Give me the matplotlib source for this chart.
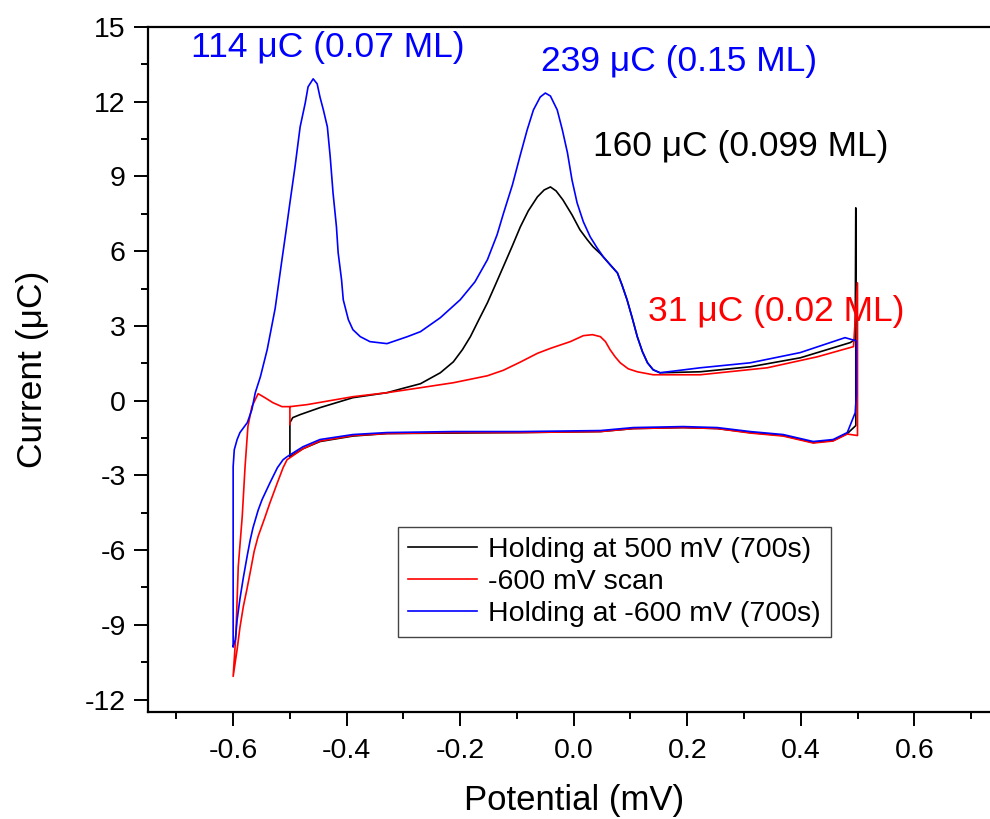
import matplotlib
matplotlib.use("Agg")
import matplotlib.pyplot as plt
from matplotlib.ticker import MultipleLocator, FuncFormatter

plt.rcParams["font.family"] = ["Liberation Sans", "DejaVu Sans"]
plt.rcParams["axes.unicode_minus"] = False

# Holding at 500 mV (700 s): starts at -0.5 V, sweeps up to 0.5 V and back
hold500_E = [-0.500, -0.500, -0.495, -0.482, -0.447, -0.389, -0.329, -0.300, -0.270,
             -0.235, -0.212, -0.196, -0.182, -0.168, -0.152, -0.138, -0.124, -0.108,
             -0.094, -0.080, -0.064, -0.052, -0.041, -0.031, -0.019, -0.003, 0.011,
             0.024, 0.034, 0.047, 0.061, 0.077, 0.085, 0.094, 0.103, 0.112, 0.121,
             0.130, 0.140, 0.152, 0.223, 0.311, 0.399, 0.487, 0.496,
             0.497, 0.497, 0.482, 0.457, 0.422, 0.369, 0.311, 0.253, 0.193,
             0.105, 0.047, -0.094, -0.212, -0.329, -0.389, -0.447, -0.477, -0.500]
hold500_I = [-2.25, -0.88, -0.68, -0.56, -0.28, 0.12, 0.32, 0.50, 0.68,
             1.12, 1.56, 2.05, 2.57, 3.21, 3.93, 4.65, 5.38, 6.22,
             6.98, 7.62, 8.18, 8.46, 8.58, 8.42, 8.06, 7.46, 6.86,
             6.46, 6.18, 5.90, 5.54, 5.13, 4.65, 4.05, 3.33, 2.57, 1.97,
             1.52, 1.24, 1.12, 1.16, 1.36, 1.72, 2.33, 2.45,
             7.74, -1.00, -1.32, -1.60, -1.68, -1.40, -1.28, -1.12, -1.08,
             -1.12, -1.24, -1.28, -1.30, -1.32, -1.42, -1.64, -1.93, -2.25]

# -600 mV scan: full cycle starting at -0.5 V
scan600_E = [-0.500, -0.500, -0.470, -0.389, -0.329, -0.270, -0.212, -0.152, -0.124,
             -0.094, -0.064, -0.041, -0.006, 0.017, 0.033, 0.047, 0.056, 0.064, 0.073,
             0.082, 0.096, 0.112, 0.140, 0.223, 0.341, 0.429, 0.493, 0.500, 0.500,
             0.482, 0.457, 0.422, 0.369, 0.311, 0.253, 0.193, 0.105, 0.047, -0.094,
             -0.212, -0.329, -0.389, -0.447, -0.477, -0.505, -0.512, -0.522, -0.535,
             -0.545, -0.556, -0.563, -0.570, -0.576, -0.582, -0.588, -0.593, -0.600,
             -0.595, -0.591, -0.584, -0.579, -0.574, -0.567, -0.556, -0.544, -0.530,
             -0.514, -0.500]
scan600_I = [-0.96, -0.24, -0.16, 0.16, 0.32, 0.52, 0.72, 1.00, 1.22,
             1.55, 1.90, 2.10, 2.37, 2.61, 2.65, 2.57, 2.37, 2.05, 1.76,
             1.52, 1.28, 1.16, 1.04, 1.04, 1.32, 1.76, 2.17, 4.73, -1.40,
             -1.34, -1.62, -1.70, -1.42, -1.30, -1.12, -1.08, -1.12, -1.24, -1.28,
             -1.28, -1.32, -1.40, -1.62, -1.93, -2.37, -2.69, -3.29, -4.09,
             -4.75, -5.45, -6.05, -6.90, -7.60, -8.26, -9.10, -9.99, -11.07,
             -9.31, -6.66, -4.65, -2.65, -1.04, -0.24, 0.28, 0.12, -0.08,
             -0.24, -0.24]

# Holding at -600 mV (700 s): full cycle starting at -0.6 V
hold_neg600_E = [-0.600, -0.600, -0.598, -0.593, -0.588, -0.575, -0.567, -0.561, -0.552,
                 -0.540, -0.526, -0.514, -0.507, -0.500, -0.491, -0.482, -0.473, -0.468,
                 -0.459, -0.452, -0.447, -0.441, -0.434, -0.429, -0.424, -0.418, -0.415,
                 -0.409, -0.406, -0.397, -0.389, -0.376, -0.359, -0.329, -0.293, -0.270,
                 -0.235, -0.200, -0.174, -0.152, -0.135, -0.124, -0.108, -0.094, -0.082,
                 -0.071, -0.059, -0.050, -0.041, -0.029, -0.020, -0.011, -0.003, 0.006,
                 0.017, 0.029, 0.041, 0.052, 0.064, 0.077, 0.085, 0.094, 0.103, 0.112,
                 0.121, 0.130, 0.140, 0.152, 0.223, 0.311, 0.399, 0.478,
                 0.498, 0.498, 0.496, 0.482, 0.457, 0.422, 0.369, 0.311, 0.253, 0.193,
                 0.105, 0.047, -0.094, -0.212, -0.329, -0.389, -0.447, -0.477, -0.505,
                 -0.512, -0.522, -0.535, -0.549, -0.556, -0.565, -0.570, -0.575, -0.582,
                 -0.588, -0.593, -0.596, -0.600]
hold_neg600_I = [-9.87, -2.65, -1.97, -1.56, -1.28, -0.88, -0.36, 0.32, 0.96,
                 2.05, 3.70, 5.66, 6.78, 7.94, 9.39, 10.99, 11.95, 12.60,
                 12.92, 12.72, 12.19, 11.67, 10.99, 9.79, 8.34, 6.98, 5.94,
                 4.85, 4.05, 3.25, 2.85, 2.57, 2.37, 2.29, 2.57, 2.77,
                 3.33, 4.05, 4.77, 5.66, 6.66, 7.50, 8.66, 9.87, 10.87,
                 11.67, 12.19, 12.35, 12.23, 11.67, 10.87, 9.95, 8.86, 7.94,
                 7.18, 6.58, 6.14, 5.78, 5.46, 5.13, 4.65, 4.05, 3.33, 2.57,
                 1.97, 1.52, 1.24, 1.12, 1.32, 1.52, 1.93, 2.53,
                 2.40, 0.24, -0.48, -1.28, -1.56, -1.64, -1.36, -1.24, -1.08, -1.04,
                 -1.08, -1.20, -1.24, -1.24, -1.28, -1.36, -1.56, -1.85, -2.25,
                 -2.37, -2.69, -3.29, -3.97, -4.40, -5.10, -5.60, -6.20, -7.10,
                 -7.95, -8.80, -9.59, -9.87]

fig = plt.figure(figsize=(9.9, 8.19), dpi=100)
ax = fig.add_axes([0.1495, 0.1306, 0.86, 0.8364])

ax.plot(hold500_E, hold500_I, color="black", lw=1.2, label="Holding at 500 mV (700s)")
ax.plot(scan600_E, scan600_I, color="red", lw=1.2, label="-600 mV scan")
ax.plot(hold_neg600_E, hold_neg600_I, color="blue", lw=1.2, label="Holding at -600 mV (700s)")

ax.set_xlim(-0.75, 0.75)
ax.set_ylim(-12.5, 15)
ax.xaxis.set_major_locator(MultipleLocator(0.2))
ax.xaxis.set_minor_locator(MultipleLocator(0.1))
ax.yaxis.set_major_locator(MultipleLocator(3))
ax.yaxis.set_minor_locator(MultipleLocator(1.5))
ax.xaxis.set_major_formatter(FuncFormatter(lambda v, p: f"{round(v, 1) + 0:.1f}"))
ax.yaxis.set_major_formatter(FuncFormatter(lambda v, p: f"{int(round(v))}"))

ax.tick_params(which="both", direction="out", top=False, right=False, width=1.4)
ax.tick_params(which="major", length=10, labelsize=20.5)
ax.tick_params(axis="x", which="major", pad=9)
ax.tick_params(axis="y", which="major", pad=6)
ax.tick_params(which="minor", length=5)
for s in ax.spines.values():
    s.set_linewidth(1.6)

ax.set_xlabel("Potential (mV)", fontsize=25, labelpad=14)
ax.set_ylabel("Current (μC)", fontsize=25.5, labelpad=26)

ax.text(-0.433, 14.16, "114 μC (0.07 ML)", color="blue", fontsize=25.5, ha="center", va="center")
ax.text(0.186, 13.6, "239 μC (0.15 ML)", color="blue", fontsize=25.5, ha="center", va="center")
ax.text(0.295, 10.19, "160 μC (0.099 ML)", color="black", fontsize=25.5, ha="center", va="center")
ax.text(0.357, 3.57, "31 μC (0.02 ML)", color="red", fontsize=25.5, ha="center", va="center")

leg = ax.legend(loc="lower left", bbox_to_anchor=(0.294, 0.109), borderaxespad=0,
                fontsize=20.5, fancybox=False, edgecolor="#444444", framealpha=1,
                handlelength=2.4, handletextpad=0.4, labelspacing=0.22, borderpad=0.35)
leg.get_frame().set_linewidth(1.0)

plt.savefig("out.png", dpi=100)
